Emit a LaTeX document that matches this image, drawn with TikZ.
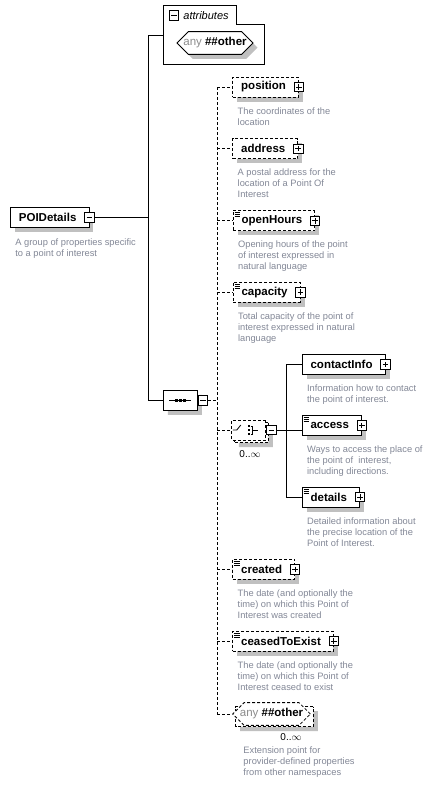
\documentclass[tikz,border=0pt]{standalone}
\usepackage{fontspec}
\setmainfont{Liberation Sans}
\usetikzlibrary{positioning,shapes.misc}

\definecolor{descgray}{RGB}{130,135,150}
\definecolor{shadowgray}{RGB}{192,192,192}
\definecolor{anygray}{RGB}{140,140,140}

\tikzset{
  opt/.style={dash pattern=on 3pt off 2pt},
  boxshadow/.style={preaction={fill=shadowgray, transform canvas={shift={(4.5pt,-4.5pt)}}}},
  elem/.style={draw, fill=white, boxshadow, anchor=west, minimum height=20pt,
      inner xsep=8.5pt, inner ysep=0pt, font=\fontsize{11.5}{13}\selectfont\bfseries,
      execute at end node={\hspace{4pt}}},
  simple/.style={path picture={\foreach \k in {2pt,4pt,6pt}
      \draw[solid, line width=0.7pt] ([xshift=1.5pt, yshift=-\k]path picture bounding box.north west) -- ++(5.5pt,0pt);}},
  descr/.style={anchor=north west, inner sep=0pt, align=left, text=descgray,
      font=\fontsize{9.3}{11}\selectfont},
  pm/.style={draw, solid, fill=white, minimum size=9.5pt, inner sep=0pt, line width=0.9pt},
  plusbox/.style={pm, path picture={
      \draw[solid, line width=0.8pt] ([xshift=2pt]path picture bounding box.west) -- ([xshift=-2pt]path picture bounding box.east)
        ([yshift=-2pt]path picture bounding box.north) -- ([yshift=2pt]path picture bounding box.south);}},
  minusbox/.style={pm, path picture={
      \draw[solid, line width=0.8pt] ([xshift=2pt]path picture bounding box.west) -- ([xshift=-2pt]path picture bounding box.east);}},
  group/.style={chamfered rectangle, chamfered rectangle sep=6pt, draw, fill=white,
      minimum width=34pt, minimum height=20pt, inner sep=0pt,
      font=\fontsize{11.5}{13}\selectfont},
  card/.style={inner sep=0pt, font=\fontsize{10}{12}\selectfont},
}

\begin{document}
\begin{tikzpicture}[x=1pt, y=-1pt, line width=0.8pt]
\useasboundingbox (0,0) rectangle (433,785);

% Attributes
\draw (163,5) -- (236.7,5) -- (236.7,24.3) -- (264.7,24.3) -- (264.7,64) -- (163,64) -- cycle;
\node[minusbox] (attrM) at (174,15.5) {};
\node[anchor=west, inner sep=0pt, font=\fontsize{11}{13}\selectfont\itshape] (attrT) at (183,15.5) {attributes};
\node[group, boxshadow, minimum width=76pt] (attrAny) at (215,43) {\textcolor{anygray}{any} \textbf{\#\#other}};
\coordinate (attrIn) at (163,35);

% POIDetails
\node[elem] (poi) at (10,217.5) {POIDetails};
\node[minusbox] (poiM) at (poi.east) {};
\node[descr, below right=10pt and 5pt of poi.south west] (poiD) {A group of properties specific\\to a point of interest};

% Sequence
\coordinate (bus) at (148,0);
\node[group, boxshadow] (seq) at (180.3,400.3) {};
\node[minusbox, anchor=west] (seqM) at (seq.east) {};
\draw (seq.center) ++(-11,0) -- ++(22,0);
\foreach \dx in {-4,0,4}
  \fill ([xshift=\dx*1pt]seq.center) +(-1.4,-1.4) rectangle +(1.4,1.4);
\draw (attrIn) -- (bus |- attrIn) -- (bus |- seq.west) -- (seq.west);
\draw (poiM.east) -- (bus |- poiM.east);

% Sequence children
\coordinate (optbus) at (217.3,0);
\node[elem, opt] (pos) at (232.3,87) {position};
\node[plusbox] (posP) at (pos.east) {};
\node[descr, below right=9.5pt and 5pt of pos.south west] (posD) {The coordinates of the\\location};

\node[elem, opt] (addr) at (232.3,148.7) {address};
\node[plusbox] (addrP) at (addr.east) {};
\node[descr, below right=9.5pt and 5pt of addr.south west] (addrD) {A postal address for the\\location of a Point Of\\Interest};

\node[elem, opt, simple] (hours) at (232.7,220.8) {openHours};
\node[plusbox] (hoursP) at (hours.east) {};
\node[descr, below right=9.5pt and 5pt of hours.south west] (hoursD) {Opening hours of the point\\of interest expressed in\\natural language};

\node[elem, opt, simple] (cap) at (232.7,292.2) {capacity};
\node[plusbox] (capP) at (cap.east) {};
\node[descr, below right=9.5pt and 5pt of cap.south west] (capD) {Total capacity of the point of\\interest expressed in natural\\language};

% Choice
\node[group, opt, boxshadow] (choiceB) at (251.3,432.5) {};
\node[group, opt] (choice) at (248.8,430) {};
\node[minusbox, anchor=west] (choiceM) at (choice.east) {};
\node[card] (choiceC) at (250,454) {0..$\infty$};
\begin{scope}[shift={(choice.center)}]
  \draw (-16,0) -- (-12,0) -- (-8,-5);
  \foreach \dy in {-4,0,4}
    \fill (0,\dy) +(-1.3,-1.3) rectangle +(1.3,1.3);
  \draw (2,-4) -- (4,-4) -- (4,4) -- (2,4) (4,0) -- (9,0);
\end{scope}

\coordinate (chbus) at (286,0);
\node[elem] (contact) at (301.7,364.5) {contactInfo};
\node[plusbox] (contactP) at (contact.east) {};
\node[descr, below right=9.5pt and 5pt of contact.south west] (contactD) {Information how to contact\\the point of interest.};

\node[elem, simple] (access) at (301.7,425.3) {access};
\node[plusbox] (accessP) at (access.east) {};
\node[descr, below right=10pt and 5pt of access.south west] (accessD) {Ways to access the place of\\the point of\ \ interest,\\including directions.};

\node[elem, simple] (det) at (301.7,497) {details};
\node[plusbox] (detP) at (det.east) {};
\node[descr, below right=9.5pt and 5pt of det.south west] (detD) {Detailed information about\\the precise location of the\\Point of Interest.};

\draw (choiceM.east) -- (access.west |- choiceM.east);
\draw (chbus |- contact.west) -- (chbus |- det.west);
\draw (chbus |- contact.west) -- (contact.west);
\draw (chbus |- det.west) -- (det.west);

\node[elem, opt, simple] (created) at (232.3,569.3) {created};
\node[plusbox] (createdP) at (created.east) {};
\node[descr, below right=9.5pt and 5pt of created.south west] (createdD) {The date (and optionally the\\time) on which this Point of\\Interest was created};

\node[elem, opt, simple] (ceased) at (232.3,641) {ceasedToExist};
\node[plusbox] (ceasedP) at (ceased.east) {};
\node[descr, below right=9.5pt and 5pt of ceased.south west] (ceasedD) {The date (and optionally the\\time) on which this Point of\\Interest ceased to exist};

% Any element
\node[group, opt, boxshadow, anchor=west, minimum width=77.7pt] (anyB) at (235.3,716.5) {};
\node[group, opt, anchor=west, minimum width=77.7pt] (anyEl) at (232.3,714) {\textcolor{anygray}{any} \textbf{\#\#other}};
\node[card] (anyC) at (291,737) {0..$\infty$};
\node[descr, below right=26pt and 5pt of anyEl.south west] (anyD) {Extension point for\\provider-defined properties\\from other namespaces};

% Optional connectors
\draw[opt] (seqM.east) -- (optbus |- seqM.east);
\draw[opt] (optbus |- pos.west) -- (optbus |- anyEl.west);
\foreach \n in {pos,addr,hours,cap,choice,created,ceased,anyEl}
  \draw[opt] (optbus |- \n.west) -- (\n.west);

\end{tikzpicture}
\end{document}
